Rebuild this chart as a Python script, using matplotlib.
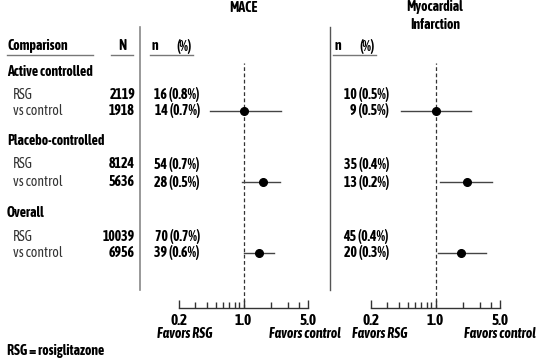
import numpy as np
import matplotlib.pyplot as plt
from matplotlib.ticker import FixedLocator, NullFormatter

plt.rcParams['font.family'] = ['Asap Condensed', 'Liberation Sans', 'DejaVu Sans']

# data
groups = ['Active controlled', 'Placebo-controlled', 'Overall']
n_rsg = [2119, 8124, 10039]
n_ctl = [1918, 5636, 6956]
mace_rsg = ['16 (0.8%)', '54 (0.7%)', '70 (0.7%)']
mace_ctl = ['14 (0.7%)', '28 (0.5%)', '39 (0.6%)']
mi_rsg = ['10 (0.5%)', '35 (0.4%)', '45 (0.4%)']
mi_ctl = ['9 (0.5%)', '13 (0.2%)', '20 (0.3%)']
mace_or = [1.00, 1.61, 1.48]
mace_lo = [0.43, 0.96, 1.00]
mace_hi = [2.53, 2.49, 2.16]
mi_or = [1.00, 2.20, 1.91]
mi_lo = [0.42, 1.13, 1.07]
mi_hi = [2.45, 4.14, 3.50]

W, H = 537, 359
fig = plt.figure(figsize=(W / 100, H / 100), dpi=100)
bg = fig.add_axes([0, 0, 1, 1])
bg.set_xlim(0, W)
bg.set_ylim(H, 0)
bg.axis('off')

# layout (pixel rows)
y_group = [72, 141, 213]
y_rsg = [95, 164, 237]
y_ctl = [111, 182, 253]
fs = 10

# header
bg.text(7, 46, 'Comparison', fontsize=fs, fontweight='bold', va='center')
bg.plot([7, 93], [55, 55], color='#777', lw=1)
bg.text(122, 46, 'N', fontsize=fs, fontweight='bold', va='center', ha='center')
bg.plot([111, 133], [55, 55], color='#777', lw=1)
for x0 in (152, 335):
    bg.text(x0, 46, 'n', fontsize=fs, fontweight='bold', va='center')
    bg.text(x0 + 24, 46, '(%)', fontsize=fs, fontweight='bold', va='center')
    bg.plot([x0 - 2, x0 + 41], [55, 55], color='#777', lw=1)

bg.text(243, 8, 'MACE', fontsize=fs, fontweight='bold', va='center', ha='center')
bg.text(435, 16, 'Myocardial\nInfarction', fontsize=fs, fontweight='bold',
        va='center', ha='center', linespacing=1.3)

# divider lines
bg.plot([140, 140], [27, 290], color='#888', lw=1.2)
bg.plot([330, 330], [27, 290], color='#555', lw=1.0)

for i in range(3):
    bg.text(7, y_group[i], groups[i], fontsize=fs, fontweight='bold', va='center')
    bg.text(13, y_rsg[i], 'RSG', fontsize=fs, va='center', color='#333')
    bg.text(13, y_ctl[i], 'vs control', fontsize=fs, va='center', color='#333')
    bg.text(135, y_rsg[i], str(n_rsg[i]), fontsize=fs, fontweight='bold', va='center', ha='right')
    bg.text(135, y_ctl[i], str(n_ctl[i]), fontsize=fs, fontweight='bold', va='center', ha='right')
    bg.text(200, y_rsg[i], mace_rsg[i], fontsize=fs, fontweight='bold', va='center', ha='right')
    bg.text(200, y_ctl[i], mace_ctl[i], fontsize=fs, fontweight='bold', va='center', ha='right')
    bg.text(389, y_rsg[i], mi_rsg[i], fontsize=fs, fontweight='bold', va='center', ha='right')
    bg.text(389, y_ctl[i], mi_ctl[i], fontsize=fs, fontweight='bold', va='center', ha='right')

bg.text(7, 351, 'RSG = rosiglitazone', fontsize=fs, fontweight='bold', va='center')


def forest(x0, orr, lo, hi):
    top, bot = 63, 308
    ax = fig.add_axes([x0 / W, 1 - bot / H, 129 / W, (bot - top) / H])
    ax.set_xscale('log')
    ax.set_xlim(0.2, 5.0)
    ax.set_ylim(bot, top)
    ax.patch.set_alpha(0)
    for s in ['top', 'left', 'right']:
        ax.spines[s].set_visible(False)
    ax.spines['bottom'].set_color('#333')
    ax.spines['bottom'].set_linewidth(1)
    ax.set_yticks([])
    ax.xaxis.set_major_locator(FixedLocator([0.2, 1.0, 5.0]))
    ax.xaxis.set_minor_locator(FixedLocator([0.3, 0.4, 0.5, 0.6, 0.7, 0.8, 0.9, 2, 3, 4]))
    ax.xaxis.set_minor_formatter(NullFormatter())
    ax.set_xticklabels(['0.2', '1.0', '5.0'], fontsize=11, fontweight='bold')
    ax.tick_params(axis='x', which='both', direction='in', color='#333', width=1, pad=4)
    ax.tick_params(axis='x', which='major', length=6)
    ax.tick_params(axis='x', which='minor', length=4)
    ax.axvline(1.0, color='#333', lw=0.9, ls=(0, (3, 2)))
    for i in range(3):
        ax.plot([lo[i], hi[i]], [y_ctl[i], y_ctl[i]], color='#444', lw=1, clip_on=False)
        ax.plot(orr[i], y_ctl[i], 'o', color='black', ms=5.5, clip_on=False)
    return ax


forest(179, mace_or, mace_lo, mace_hi)
forest(371, mi_or, mi_lo, mi_hi)

for cx, txt, ha in [(185, 'Favors RSG', 'center'), (305, 'Favors control', 'center'),
                    (380, 'Favors RSG', 'center'), (536, 'Favors control', 'right')]:
    bg.text(cx, 334, txt, fontsize=fs, fontweight='bold', style='italic',
            va='center', ha=ha)

fig.savefig('out.png', dpi=100)
